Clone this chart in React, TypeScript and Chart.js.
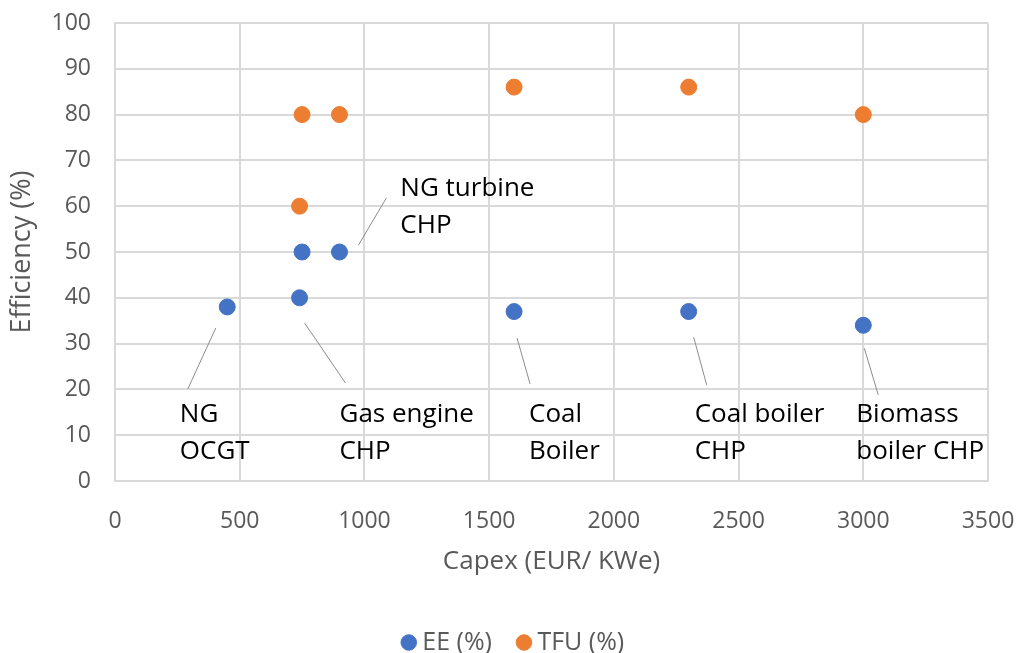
import React, { useEffect, useRef } from "react";
import { Chart, registerables } from "chart.js";

Chart.register(...registerables);

// Capex (EUR/kWe) and efficiency (%) per technology
const eeCapex = [450, 740, 750, 900, 1600, 2300, 3000];
const eeValues = [38, 40, 50, 50, 37, 37, 34];
const tfuCapex = [740, 750, 900, 1600, 2300, 3000];
const tfuValues = [60, 80, 80, 86, 86, 80];

const seriesNames = ["EE (%)", "TFU (%)"];
const xTitle = "Capex (EUR/ KWe)";
const yTitle = "Efficiency (%)";

// Technology callouts: text lines, anchor of the text (data units)
// and the leader line drawn from near the point towards the text.
const calloutLines = [
  ["NG", "OCGT"],
  ["Gas engine", "CHP"],
  ["NG turbine", "CHP"],
  ["Coal", "Boiler"],
  ["Coal boiler", "CHP"],
  ["Biomass", "boiler CHP"],
];
const calloutTextX = [260, 900, 1144, 1660, 2324, 2972];
const calloutTextY = [12.9, 12.9, 62.2, 12.9, 12.9, 12.9];
const leaderFrom = [
  [404, 33.4],
  [760, 34.5],
  [976, 51.5],
  [1612, 31.2],
  [2320, 31.4],
  [3004, 29.0],
];
const leaderTo = [
  [292, 20.1],
  [924, 21.4],
  [1088, 61.8],
  [1664, 21.2],
  [2372, 21.0],
  [3060, 18.8],
];

const FONT = "'Open Sans', 'Noto Sans', sans-serif";
const AXIS_GREY = "#595959";
const GRID = "#d9d9d9";

const calloutPlugin = {
  id: "callouts",
  afterLayout(chart: any) {
    // place the legend row a little right of and below its default spot
    if (chart.legend) {
      chart.legend.left += 22;
      chart.legend.right += 22;
      chart.legend.top += 3;
      chart.legend.bottom += 3;
    }
  },
  afterDatasetsDraw(chart: any) {
    const { ctx, scales } = chart;
    const xs = scales.x;
    const ys = scales.y;
    ctx.save();
    ctx.strokeStyle = "#8c8c8c";
    ctx.lineWidth = 1;
    leaderFrom.forEach((from, i) => {
      const to = leaderTo[i];
      ctx.beginPath();
      ctx.moveTo(xs.getPixelForValue(from[0]), ys.getPixelForValue(from[1]));
      ctx.lineTo(xs.getPixelForValue(to[0]), ys.getPixelForValue(to[1]));
      ctx.stroke();
    });
    ctx.fillStyle = "#000000";
    ctx.font = `26px ${FONT}`;
    ctx.textAlign = "left";
    ctx.textBaseline = "alphabetic";
    calloutLines.forEach((lines, i) => {
      const px = xs.getPixelForValue(calloutTextX[i]);
      const py = ys.getPixelForValue(calloutTextY[i]);
      lines.forEach((line, j) => {
        ctx.fillText(line, px, py + j * 37);
      });
    });
    ctx.restore();
  },
};

export default function App() {
  const canvasRef = useRef<HTMLCanvasElement | null>(null);

  useEffect(() => {
    document.body.style.margin = "0";
    const canvas = canvasRef.current;
    if (!canvas) return;
    const chart = new Chart(canvas, {
      type: "scatter",
      data: {
        datasets: [
          {
            label: seriesNames[0],
            data: eeCapex.map((x, i) => ({ x, y: eeValues[i] })),
            backgroundColor: "#4472C4",
            borderColor: "#4472C4",
            pointRadius: 8,
            pointBorderWidth: 1,
            pointStyle: "circle",
          },
          {
            label: seriesNames[1],
            data: tfuCapex.map((x, i) => ({ x, y: tfuValues[i] })),
            backgroundColor: "#ED7D31",
            borderColor: "#ED7D31",
            pointRadius: 8,
            pointBorderWidth: 1,
            pointStyle: "circle",
          },
        ],
      },
      options: {
        animation: false,
        responsive: false,
        maintainAspectRatio: false,
        layout: { padding: { left: 0, right: 31, top: 23, bottom: 0 } },
        scales: {
          x: {
            type: "linear",
            min: 0,
            max: 3500,
            ticks: {
              stepSize: 500,
              padding: 27,
              color: AXIS_GREY,
              font: { family: FONT, size: 23 },
              callback: (v: any) => String(v),
            },
            grid: { color: GRID, lineWidth: 2, drawTicks: false },
            border: { color: GRID, width: 2 },
            title: {
              display: true,
              text: xTitle,
              color: AXIS_GREY,
              font: { family: FONT, size: 26 },
              padding: { top: 0, bottom: 19 },
            },
            afterFit: (scale: any) => {
              scale.height = 115;
              scale.paddingLeft = 0;
              scale.paddingRight = 0;
            },
          },
          y: {
            type: "linear",
            min: 0,
            max: 100,
            ticks: {
              stepSize: 10,
              padding: 24,
              color: AXIS_GREY,
              font: { family: FONT, size: 23 },
              callback: (v: any) => String(v),
            },
            grid: { color: GRID, lineWidth: 2, drawTicks: false },
            border: { color: GRID, width: 2 },
            title: {
              display: true,
              text: yTitle,
              color: AXIS_GREY,
              font: { family: FONT, size: 27 },
              padding: { top: 6, bottom: 0 },
            },
            afterFit: (scale: any) => {
              scale.width = 115;
              scale.paddingTop = 0;
              scale.paddingBottom = 0;
            },
          },
        },
        plugins: {
          legend: {
            position: "bottom",
            maxHeight: 57,
            labels: {
              usePointStyle: true,
              boxWidth: 2,
              boxHeight: 11,
              padding: 31,
              color: AXIS_GREY,
              font: { family: FONT, size: 25 },
            },
          },
          tooltip: { enabled: false },
        },
      },
      plugins: [calloutPlugin],
    } as any);
    return () => chart.destroy();
  }, []);

  return (
    <div style={{ position: "fixed", left: 0, top: 0, width: 1019, height: 653, background: "#ffffff" }}>
      <canvas ref={canvasRef} width={1019} height={653} style={{ width: 1019, height: 653 }} />
    </div>
  );
}
